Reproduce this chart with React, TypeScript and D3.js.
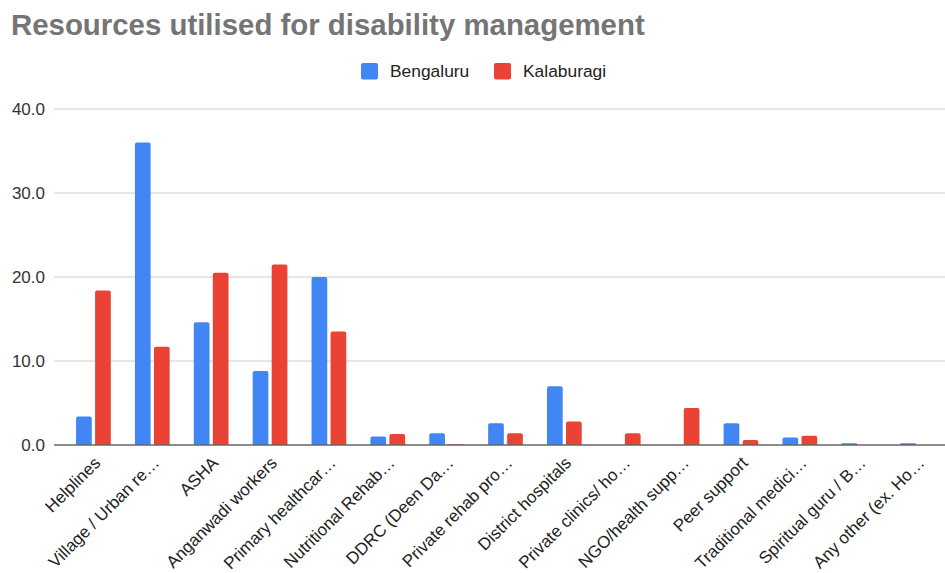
import React from "react";
import * as d3 from "d3";

const categories = [
  "Helplines",
  "Village / Urban re…",
  "ASHA",
  "Anganwadi workers",
  "Primary healthcar…",
  "Nutritional Rehab…",
  "DDRC (Deen Da…",
  "Private rehab pro…",
  "District hospitals",
  "Private clinics/ ho…",
  "NGO/health supp…",
  "Peer support",
  "Traditional medici…",
  "Spiritual guru / B…",
  "Any other (ex. Ho…",
];
const seriesNames = ["Bengaluru", "Kalaburagi"];
const bengaluru = [3.4, 36.0, 14.6, 8.8, 20.0, 1.0, 1.4, 2.6, 7.0, 0, 0, 2.6, 0.9, 0.2, 0.2];
const kalaburagi = [18.4, 11.7, 20.5, 21.5, 13.5, 1.3, 0.1, 1.4, 2.8, 1.4, 4.4, 0.6, 1.1, 0, 0];
const yTicks = [0, 10, 20, 30, 40];
const colors = ["#4285F4", "#EA4335"];

export default function App() {
  const W = 945;
  const H = 573;
  const font = "'Liberation Sans', Arial, sans-serif";
  const y = d3.scaleLinear().domain([0, 40]).range([445, 109]);
  const x0 = d3.scaleBand<string>().domain(categories).range([64, 947]).paddingInner(0.41).paddingOuter(0.205);
  const x1 = d3.scaleBand<string>().domain(seriesNames).range([0, x0.bandwidth()]).paddingInner(0.174);
  const data = [bengaluru, kalaburagi];

  const barPath = (x: number, w: number, top: number, bottom: number) => {
    const h = bottom - top;
    const r = Math.min(2, h / 2, w / 2);
    return `M${x},${bottom}V${top + r}Q${x},${top} ${x + r},${top}H${x + w - r}Q${x + w},${top} ${x + w},${top + r}V${bottom}Z`;
  };

  return (
    <svg width={W} height={H} style={{ position: "absolute", left: 0, top: 0, background: "#fff" }}>
      <text x={11} y={35} fontFamily={font} fontWeight="bold" fontSize={29.4} fill="#757575">
        Resources utilised for disability management
      </text>
      {/* legend */}
      {seriesNames.map((s, i) => {
        const lx = [361, 494][i];
        return (
          <g key={s}>
            <rect x={lx} y={63} width={17} height={16.5} rx={2} fill={colors[i]} />
            <text x={lx + 29} y={77} fontFamily={font} fontSize={17.4} fill="#222">
              {s}
            </text>
          </g>
        );
      })}
      {/* gridlines */}
      {yTicks.map((t) => (
        <g key={t}>
          {t !== 0 && <line x1={54} x2={945} y1={y(t)} y2={y(t)} stroke="#ccc" strokeWidth={1} />}
          <text x={45} y={y(t) + 6} textAnchor="end" fontFamily={font} fontSize={17} fill="#333">
            {d3.format(".1f")(t)}
          </text>
        </g>
      ))}
      {/* bars */}
      {categories.map((c, ci) => (
        <g key={c}>
          {data.map((vals, si) => {
            const v = vals[ci];
            if (!v) return null;
            const bx = (x0(c) as number) + (x1(seriesNames[si]) as number);
            return <path key={si} d={barPath(bx, x1.bandwidth(), y(v), y(0))} fill={colors[si]} />;
          })}
        </g>
      ))}
      <line x1={54} x2={945} y1={y(0)} y2={y(0)} stroke="#666" strokeWidth={1.6} />
      {/* x labels */}
      {categories.map((c) => {
        const cx = (x0(c) as number) + x0.bandwidth() / 2;
        return (
          <text
            key={c}
            transform={`translate(${cx + 8},${464}) rotate(-45)`}
            textAnchor="end"
            fontFamily={font}
            fontSize={17}
            fill="#222"
          >
            {c}
          </text>
        );
      })}
    </svg>
  );
}
